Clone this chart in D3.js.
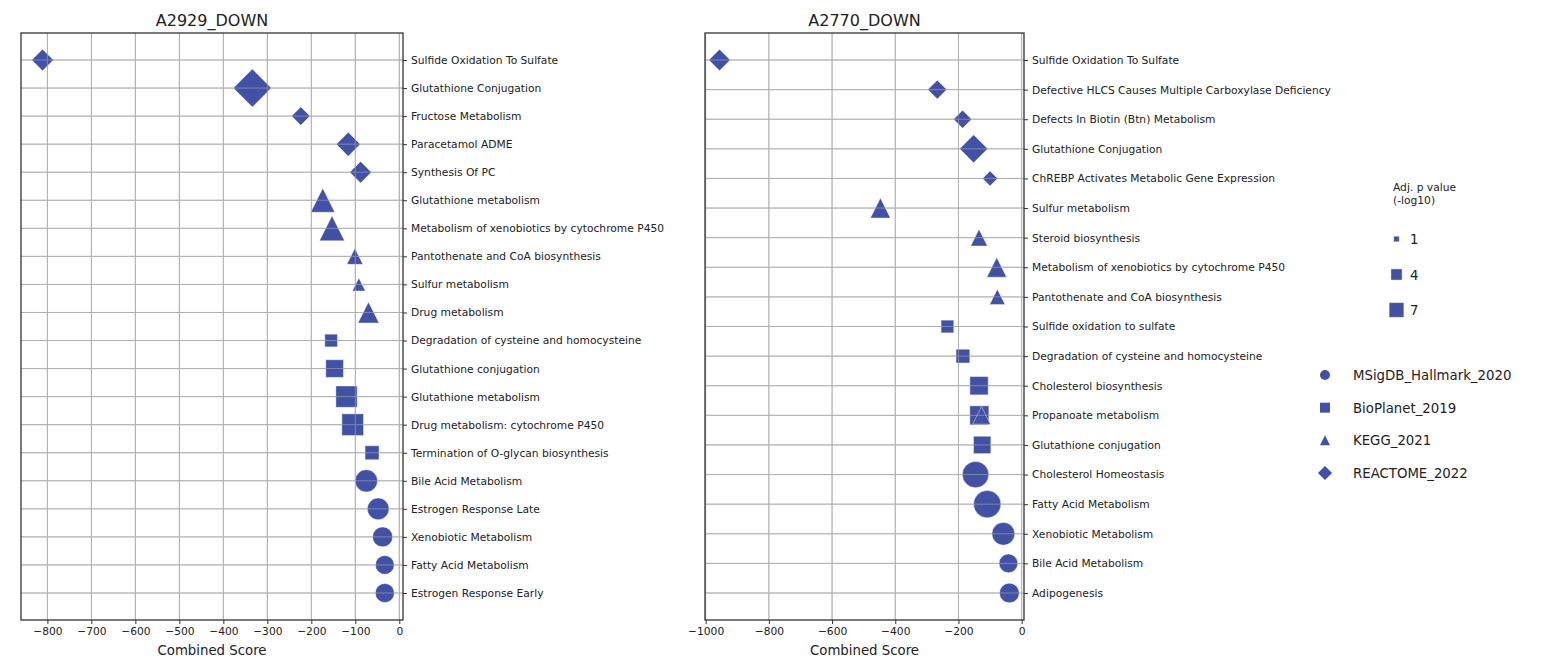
<!DOCTYPE html>
<html>
<head>
<meta charset="utf-8">
<script src="https://cdn.jsdelivr.net/npm/d3@7"></script>
<style>
  html, body { margin: 0; padding: 0; background: #fff; }
  svg { display: block; font-family: "DejaVu Sans", sans-serif; }
</style>
</head>
<body>
<svg id="chart" width="1567" height="664"></svg>
<script>
// ---- A2929_DOWN enrichment terms (top to bottom) ----
const leftRows = [
  "Sulfide Oxidation To Sulfate", "Glutathione Conjugation", "Fructose Metabolism",
  "Paracetamol ADME", "Synthesis Of PC", "Glutathione metabolism",
  "Metabolism of xenobiotics by cytochrome P450", "Pantothenate and CoA biosynthesis",
  "Sulfur metabolism", "Drug metabolism", "Degradation of cysteine and homocysteine",
  "Glutathione conjugation", "Glutathione metabolism", "Drug metabolism: cytochrome P450",
  "Termination of O-glycan biosynthesis", "Bile Acid Metabolism", "Estrogen Response Late",
  "Xenobiotic Metabolism", "Fatty Acid Metabolism", "Estrogen Response Early"
];
const leftPointRow = [0, 1, 2, 3, 4, 5, 6, 7, 8, 9, 10, 11, 12, 13, 14, 15, 16, 17, 18, 19];
const leftLibrary = [
  "REACTOME_2022", "REACTOME_2022", "REACTOME_2022", "REACTOME_2022", "REACTOME_2022",
  "KEGG_2021", "KEGG_2021", "KEGG_2021", "KEGG_2021", "KEGG_2021",
  "BioPlanet_2019", "BioPlanet_2019", "BioPlanet_2019", "BioPlanet_2019", "BioPlanet_2019",
  "MSigDB_Hallmark_2020", "MSigDB_Hallmark_2020", "MSigDB_Hallmark_2020",
  "MSigDB_Hallmark_2020", "MSigDB_Hallmark_2020"
];
const leftScore = [-811, -334, -224, -116, -88, -174, -153, -101, -92, -70,
                   -155, -147, -120, -106, -62, -75, -48, -38, -33, -33];
const leftLogP = [7.6, 23.4, 5.5, 9.3, 7.6, 18.6, 20.2, 8.3, 5.5, 14.3,
                  5.2, 10.1, 14.7, 15.2, 6.3, 16.1, 15.2, 12.9, 11.3, 11.7];

// ---- A2770_DOWN enrichment terms (top to bottom) ----
const rightRows = [
  "Sulfide Oxidation To Sulfate", "Defective HLCS Causes Multiple Carboxylase Deficiency",
  "Defects In Biotin (Btn) Metabolism", "Glutathione Conjugation",
  "ChREBP Activates Metabolic Gene Expression", "Sulfur metabolism", "Steroid biosynthesis",
  "Metabolism of xenobiotics by cytochrome P450", "Pantothenate and CoA biosynthesis",
  "Sulfide oxidation to sulfate", "Degradation of cysteine and homocysteine",
  "Cholesterol biosynthesis", "Propanoate metabolism", "Glutathione conjugation",
  "Cholesterol Homeostasis", "Fatty Acid Metabolism", "Xenobiotic Metabolism",
  "Bile Acid Metabolism", "Adipogenesis"
];
const rightPointRow = [0, 1, 2, 3, 4, 5, 6, 7, 8, 12, 9, 10, 11, 12, 13, 14, 15, 16, 17, 18];
const rightLibrary = [
  "REACTOME_2022", "REACTOME_2022", "REACTOME_2022", "REACTOME_2022", "REACTOME_2022",
  "KEGG_2021", "KEGG_2021", "KEGG_2021", "KEGG_2021", "KEGG_2021",
  "BioPlanet_2019", "BioPlanet_2019", "BioPlanet_2019", "BioPlanet_2019", "BioPlanet_2019",
  "MSigDB_Hallmark_2020", "MSigDB_Hallmark_2020", "MSigDB_Hallmark_2020",
  "MSigDB_Hallmark_2020", "MSigDB_Hallmark_2020"
];
const rightScore = [-956, -267, -187, -152, -100, -447, -135, -79, -77, -127,
                    -235, -186, -135, -134, -125, -146, -109, -58, -42, -39];
const rightLogP = [7.4, 5.8, 5.2, 12.7, 3.6, 12.9, 9.0, 12.6, 7.6, 10.1,
                   5.2, 6.1, 10.8, 11.7, 9.7, 22.4, 24.1, 16.7, 11.3, 12.6];

// ---- axes ticks and legends ----
const leftTicks = [-800, -700, -600, -500, -400, -300, -200, -100, 0];
const rightTicks = [-1000, -800, -600, -400, -200, 0];
const libraries = ["MSigDB_Hallmark_2020", "BioPlanet_2019", "KEGG_2021", "REACTOME_2022"];
const sizeLegendValues = [1, 4, 7];

const COLOR = "#4151a6";
const INK = "#222";
const svg = d3.select("#chart");

// marker size (px) grows with the square root of -log10(adj. p)
const sizeScale = d3.scaleSqrt().domain([0, 7]).range([0, 14.7]);

// marker outline for a given library, s = nominal marker size in px
function markerPath(lib, s) {
  const p = d3.path();
  const h = s / 2;
  if (lib === "MSigDB_Hallmark_2020") {
    p.moveTo(h, 0); p.arc(0, 0, h, 0, 2 * Math.PI);
  } else if (lib === "BioPlanet_2019") {
    p.rect(-h, -h, s, s);
  } else if (lib === "KEGG_2021") {
    p.moveTo(0, -h); p.lineTo(h, h); p.lineTo(-h, h); p.closePath();
  } else {
    const d = s * Math.SQRT1_2;
    p.moveTo(0, -d); p.lineTo(d, 0); p.lineTo(0, d); p.lineTo(-d, 0); p.closePath();
  }
  return p.toString();
}

const drawOrder = libraries; // circles first, diamonds last

function drawGrid(g, x, y, x0, x1, y0, y1, ticks, n, opacity) {
  const grid = g.append("g").attr("stroke", "#b0b0b0").attr("stroke-width", 1).attr("opacity", opacity);
  grid.selectAll("line.v").data(ticks).join("line").attr("class", "v")
    .attr("x1", d => x(d)).attr("x2", d => x(d)).attr("y1", y0).attr("y2", y1);
  grid.selectAll("line.h").data(d3.range(n)).join("line").attr("class", "h")
    .attr("x1", x0).attr("x2", x1).attr("y1", d => y(d)).attr("y2", d => y(d));
}

function panel(opts) {
  const { x0, x1, y0, y1, inset, domain, ticks, rows, pointRow, lib, score, logp, title } = opts;
  const g = svg.append("g");
  const x = d3.scaleLinear().domain(domain).range([x0, x1]);
  const y = d3.scalePoint().domain(d3.range(rows.length)).range([y0 + inset, y1 - inset]);

  const pts = pointRow.map((r, i) => ({ row: r, lib: lib[i], score: score[i], logp: logp[i] }));
  pts.sort((a, b) => drawOrder.indexOf(a.lib) - drawOrder.indexOf(b.lib));

  drawGrid(g, x, y, x0, x1, y0, y1, ticks, rows.length, 1);

  g.append("g").selectAll("path").data(pts).join("path")
    .attr("transform", d => `translate(${x(d.score)},${y(d.row)})`)
    .attr("d", d => markerPath(d.lib, sizeScale(d.logp)))
    .attr("fill", COLOR)
    .attr("stroke", "rgba(255,255,255,0.45)")
    .attr("stroke-width", 0.9);

  // faint grid showing through the markers
  drawGrid(g, x, y, x0, x1, y0, y1, ticks, rows.length, 0.55);

  // x axis
  const xa = g.append("g").attr("transform", `translate(0,${y1})`)
    .call(d3.axisBottom(x).tickValues(ticks).tickSize(4).tickPadding(3)
      .tickFormat(d => d < 0 ? "\u2212" + Math.abs(d) : String(d)));
  xa.select(".domain").remove();
  xa.selectAll("line").attr("stroke", "#333");
  xa.selectAll("text").attr("font-size", "10.7px").attr("fill", INK).attr("font-family", "DejaVu Sans");

  // y axis on the right
  const ya = g.append("g").attr("transform", `translate(${x1},0)`)
    .call(d3.axisRight(y).tickSize(4).tickPadding(4).tickFormat(i => rows[i]));
  ya.select(".domain").remove();
  ya.selectAll("line").attr("stroke", "#333");
  ya.selectAll("text").attr("font-size", "10.7px").attr("fill", INK).attr("font-family", "DejaVu Sans");

  // frame
  g.append("rect").attr("x", x0).attr("y", y0).attr("width", x1 - x0).attr("height", y1 - y0)
    .attr("fill", "none").attr("stroke", "#333").attr("stroke-width", 1.3);

  g.append("text").attr("x", (x0 + x1) / 2).attr("y", 26).attr("text-anchor", "middle")
    .attr("font-size", "16px").attr("fill", INK).text(title);
  g.append("text").attr("x", (x0 + x1) / 2).attr("y", 655).attr("text-anchor", "middle")
    .attr("font-size", "13.3px").attr("fill", INK).text("Combined Score");
}

panel({
  x0: 21, x1: 403, y0: 33, y1: 620, inset: 27, domain: [-860, 8.4], ticks: leftTicks,
  rows: leftRows, pointRow: leftPointRow, lib: leftLibrary, score: leftScore, logp: leftLogP,
  title: "A2929_DOWN"
});
panel({
  x0: 705, x1: 1024, y0: 33, y1: 620, inset: 27, domain: [-1002, 7.3], ticks: rightTicks,
  rows: rightRows, pointRow: rightPointRow, lib: rightLibrary, score: rightScore, logp: rightLogP,
  title: "A2770_DOWN"
});

// ---- size legend ----
const lg = svg.append("g");
lg.append("text").attr("x", 1393).attr("y", 191).attr("font-size", "10.7px").attr("fill", INK).text("Adj. p value");
lg.append("text").attr("x", 1393).attr("y", 204).attr("font-size", "10.7px").attr("fill", INK).text("(-log10)");
const sizeY = d3.scalePoint().domain(sizeLegendValues).range([239, 310]);
lg.selectAll("path.sz").data(sizeLegendValues).join("path").attr("class", "sz")
  .attr("transform", d => `translate(1396.5,${sizeY(d)})`)
  .attr("d", d => markerPath("BioPlanet_2019", sizeScale(d)))
  .attr("fill", COLOR).attr("stroke", "rgba(255,255,255,0.45)").attr("stroke-width", 0.9);
lg.selectAll("text.sz").data(sizeLegendValues).join("text").attr("class", "sz")
  .attr("x", 1410).attr("y", d => sizeY(d) + 5).attr("font-size", "13.3px").attr("fill", INK)
  .text(d => d);

// ---- library legend ----
const libY = d3.scalePoint().domain(libraries).range([375, 473]);
lg.selectAll("path.lib").data(libraries).join("path").attr("class", "lib")
  .attr("transform", d => `translate(1325,${libY(d)})`)
  .attr("d", d => markerPath(d, 10))
  .attr("fill", COLOR);
lg.selectAll("text.lib").data(libraries).join("text").attr("class", "lib")
  .attr("x", 1353).attr("y", d => libY(d) + 5).attr("font-size", "13.3px").attr("fill", INK)
  .text(d => d);
</script>
</body>
</html>
